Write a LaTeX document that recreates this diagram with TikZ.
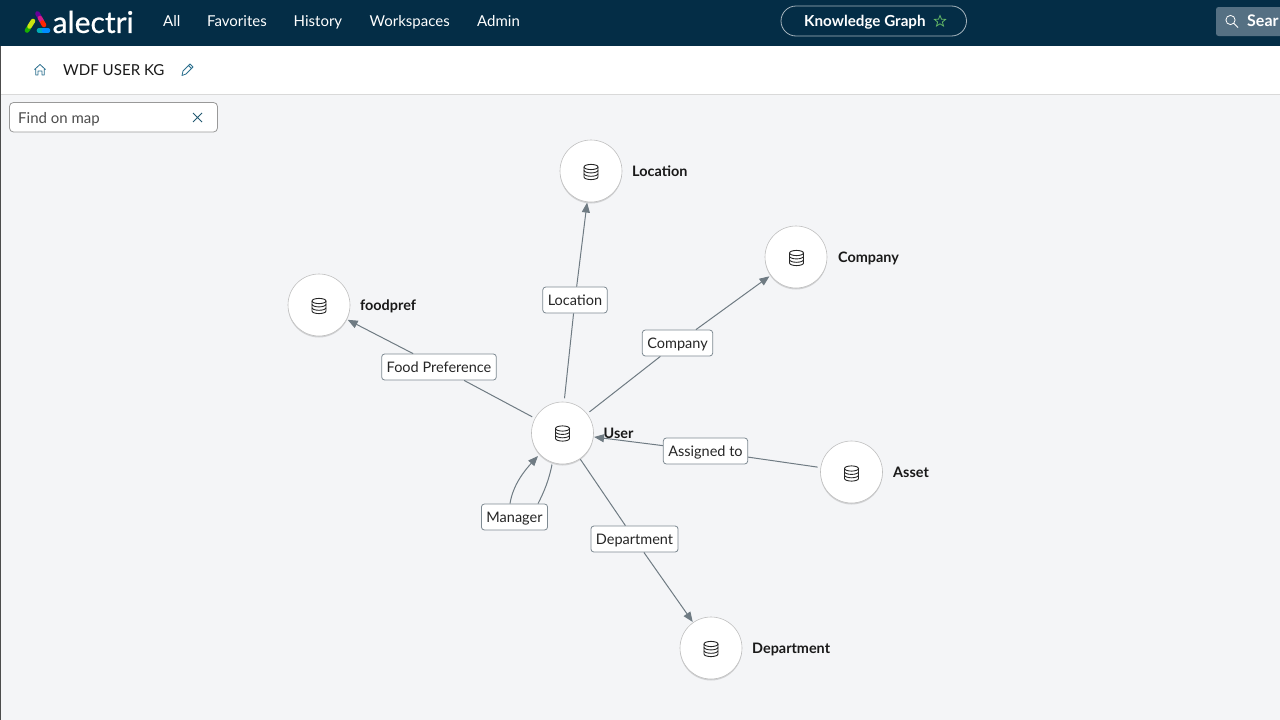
\documentclass[tikz,border=0pt]{standalone}
\usepackage{fontspec}
\setmainfont{Lato}
\newfontfamily\logofont[FakeBold=0.7]{Lato}
\usetikzlibrary{arrows.meta,shadows,calc}
\definecolor{navy}{HTML}{042D46}
\definecolor{canvasbg}{HTML}{F4F5F7}
\definecolor{edgegray}{HTML}{6F7B83}
\definecolor{boxline}{HTML}{7E8A92}
\definecolor{teal}{HTML}{2B6F8E}
\definecolor{searchbox}{HTML}{557083}
\definecolor{starlight}{HTML}{62B565}
\tikzset{
  x=1pt,y=-1pt,
  kgnode/.style={circle,draw=black!25,line width=.6pt,fill=white,minimum size=62pt,inner sep=0pt,
    drop shadow={shadow xshift=0pt,shadow yshift=-1.5pt,opacity=.14,fill=black}},
  kglabel/.style={font=\fontsize{14.4}{17}\selectfont\bfseries,anchor=west,text=black!90,inner sep=0pt,text height=11pt,text depth=3pt},
  edgelabel/.style={draw=boxline,line width=.8pt,fill=white,rounded corners=3pt,font=\fontsize{14.5}{17}\selectfont,
    text=black!85,minimum height=26pt,inner xsep=5pt,inner ysep=0pt,text height=12pt,text depth=1pt},
  edgeline/.style={draw=edgegray,line width=1pt},
  arrowline/.style={edgeline,-{Triangle[length=10pt,width=8pt,fill=edgegray]}},
  navtext/.style={font=\fontsize{15}{17}\selectfont,text=white,anchor=west,inner sep=0pt,text height=11pt,text depth=3pt},
  logostroke/.style={line width=4.6pt,line cap=round},
}
\newcommand{\dbicon}[1]{%
  \begin{scope}[shift={(#1)},draw=black!85,line width=.9pt]
    \draw (-7,-5) arc[start angle=180,end angle=-180,x radius=7,y radius=2.6];
    \draw (-7,-5) -- (-7,5) arc[start angle=180,end angle=0,x radius=7,y radius=2.6] -- (7,-5);
    \draw (-7,-1.7) arc[start angle=180,end angle=0,x radius=7,y radius=2.6];
    \draw (-7,1.7) arc[start angle=180,end angle=0,x radius=7,y radius=2.6];
  \end{scope}}
\begin{document}
\begin{tikzpicture}
\useasboundingbox (0,0) rectangle (1280,720);
\fill[canvasbg] (0,94) rectangle (1280,720);
\fill[white] (0,46) rectangle (1280,94);
\draw[black!15,line width=.8pt] (0,94.5) -- (1280,94.5);
\fill[navy] (0,0) rectangle (1280,46);
\fill[black!70] (0,46) rectangle (1.3,720);
% logo
\draw[logostroke,draw=green!65!black!90!yellow] (27,30.5) -- (29,27.5);
\draw[logostroke,draw=yellow!80!green] (29.5,26.5) -- (33,21);
\draw[logostroke,draw=violet!80!blue] (37.5,13.5) -- (39.5,17);
\draw[logostroke,draw=magenta!75!violet] (40,18) -- (42,21.5);
\draw[logostroke,draw=red!70!orange] (42.5,22.5) -- (44,25);
\draw[logostroke,draw=cyan!65!green] (39,30.5) -- (43,30.5);
\draw[logostroke,draw=blue!45!cyan] (44,30.5) -- (48,30.5);
\node[font=\logofont\fontsize{30}{32}\selectfont,text=white,anchor=west,inner sep=0pt] (logo) at (52.5,22) {alectri};
\node[navtext] (nAll) at (163,22.5) {All};
\node[navtext] (nFav) at (207,22.5) {Favorites};
\node[navtext] (nHis) at (293.5,22.5) {History};
\node[navtext] (nWor) at (369.5,22.5) {Workspaces};
\node[navtext] (nAdm) at (477,22.5) {Admin};
\draw[draw=white!65!navy,line width=.8pt,rounded corners=15pt] (781,6) rectangle (966.5,36);
\node[navtext,font=\fontsize{15.2}{17}\selectfont\bfseries] (kg) at (804,22.5) {Knowledge Graph};
\draw[starlight,line width=.8pt] (940.0,15.5) -- (941.5,19.2) -- (945.6,19.4) -- (942.4,22) -- (943.5,26) -- (940,23.8) -- (936.5,26) -- (937.6,22) -- (934.4,19.4) -- (938.5,19.2) -- cycle;
\fill[searchbox,rounded corners=2.5pt] (1216,7) rectangle (1290,36);
\draw[white,line width=.8pt] (1230.5,20) circle[radius=4.6] (1234,23.5) -- (1238,27.5);
\node[navtext,font=\fontsize{16}{17}\selectfont\bfseries] (sear) at (1247,22.5) {Sear};
% breadcrumb
\draw[teal,line width=.8pt,line join=round] (34.5,69.5) -- (40,64.5) -- (45.5,69.5) (35.8,68.5) -- (35.8,75) -- (38,75) -- (38,71) -- (42,71) -- (42,75) -- (44.2,75) -- (44.2,68.5);
\node[font=\fontsize{15.1}{17}\selectfont,text=black!90,anchor=west,inner sep=0pt] (title) at (63,70.5) {WDF USER KG};
\draw[teal,line width=.8pt,line join=round] (182,75.5) -- (183,71) -- (190,64) -- (193,67) -- (186,74) -- cycle (188.5,65.5) -- (191.5,68.5);
% find box
\draw[draw=black!40,fill=white,line width=.8pt,rounded corners=4pt] (9.5,102.5) rectangle (217.5,132);
\node[font=\fontsize{15}{17}\selectfont,text=black!70,anchor=west,inner sep=0pt] (find) at (18,119) {Find on map};
\draw[teal!80!black,line width=.8pt] (193,113) -- (202,122) (202,113) -- (193,122);
% graph nodes
\node[kgnode] (user) at (562.5,433) {};
\node[kgnode] (location) at (591,171) {};
\node[kgnode] (company) at (796,257) {};
\node[kgnode] (foodpref) at (319,305) {};
\node[kgnode] (asset) at (851.5,472) {};
\node[kgnode] (department) at (711,648) {};
\dbicon{562.5,433.5}\dbicon{591,172}\dbicon{796.5,258}\dbicon{319,306}\dbicon{851.5,473.5}\dbicon{711,649}
\node[kglabel] (tLoc) at (632,172.8) {Location};
\node[kglabel] (tCom) at (838,258.8) {Company};
\node[kglabel] (tFoo) at (360,306.8) {foodpref};
\node[kglabel] (tAss) at (893,473.8) {Asset};
\node[kglabel] (tDep) at (752,649.8) {Department};
% edge labels
\node[edgelabel] (eLoc) at (575,300) {Location};
\node[edgelabel] (eCom) at (677.5,343) {Company};
\node[edgelabel] (eFoo) at (439,367) {Food Preference};
\node[edgelabel] (eAss) at (705.5,451) {Assigned to};
\node[edgelabel] (eMan) at (514.5,517) {Manager};
\node[edgelabel] (eDep) at (634.5,539) {Department};
% connectors
\draw[edgeline,shorten <=3.5pt] (user.87) -- (eLoc);
\draw[arrowline,shorten >=.5pt] (eLoc) -- (location);
\draw[edgeline,shorten <=3pt] (user) -- (eCom);
\draw[arrowline,shorten >=1.5pt] (eCom) -- (company);
\draw[edgeline,shorten <=3pt] (user) -- (eFoo);
\draw[arrowline,shorten >=1pt] (eFoo) -- (foodpref);
\draw[edgeline,shorten <=3pt] (asset) -- (eAss);
\draw[arrowline,shorten >=.5pt] (eAss) -- (user);
\draw[edgeline,shorten <=.5pt] (user) -- (eDep);
\draw[arrowline,shorten >=.5pt] (eDep) -- (department);
\coordinate (manA) at (552,464.5);
\coordinate (manB) at (538,456);
\draw[edgeline] (manA) .. controls (549,480) and (544,492) .. (eMan.north east -| 538,503);
\draw[arrowline] (eMan.north -| 510,503) .. controls (513,484) and (526,469) .. (manB);
\node[kglabel] (tUse) at (603.5,434) {User};
\end{tikzpicture}
\end{document}
